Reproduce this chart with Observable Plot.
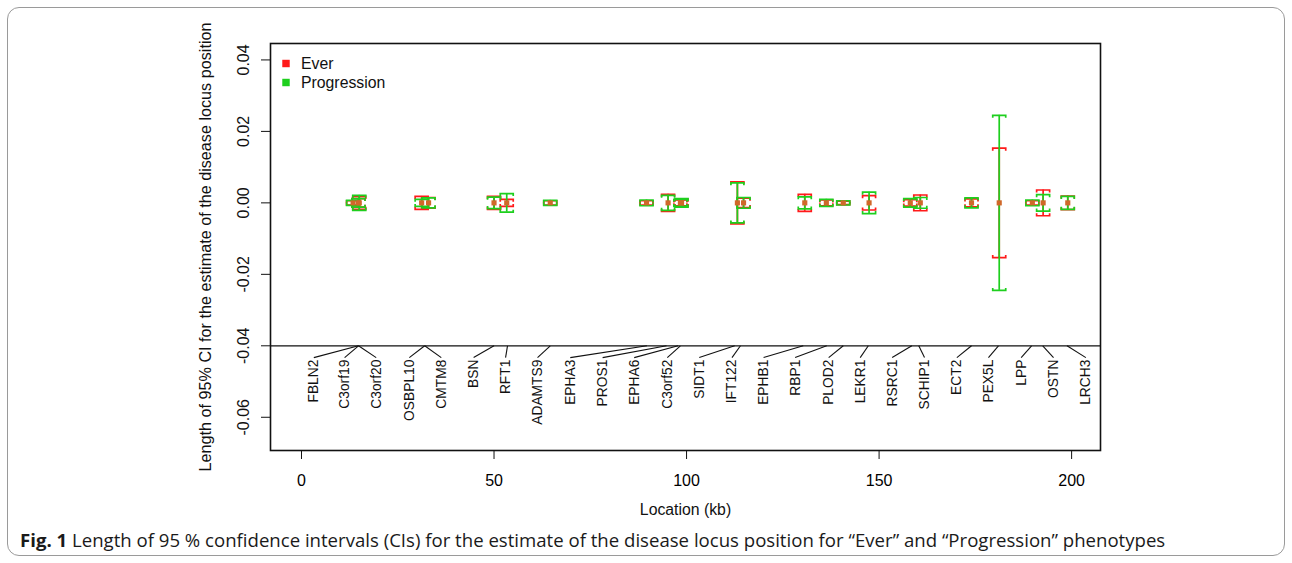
<!DOCTYPE html>
<html><head><meta charset="utf-8">
<script src="https://cdn.jsdelivr.net/npm/d3@7"></script>
<script src="https://cdn.jsdelivr.net/npm/@observablehq/plot@0.6"></script>
<style>
html,body{margin:0;padding:0;background:#fff;}
body{width:1292px;height:563px;position:relative;overflow:hidden;font-family:"Liberation Sans",Arial,sans-serif;}
#panel{position:absolute;left:7px;top:7px;width:1278px;height:549px;border:1px solid #9a9a9a;border-radius:12px;box-sizing:border-box;}
#chart{position:absolute;left:0;top:0;}
#caption{position:absolute;left:20px;top:527px;font-family:"Open Sans",sans-serif;font-size:18.6px;color:#1a1a1a;white-space:nowrap;}
</style></head><body>
<div id="panel"></div>
<div id="chart"></div>
<div id="caption"><b>Fig. 1</b> Length of 95 % confidence intervals (CIs) for the estimate of the disease locus position for “Ever” and “Progression” phenotypes</div>
<script>
// ---- data ----
const genes = ["FBLN2","C3orf19","C3orf20","OSBPL10","CMTM8","BSN","RFT1","ADAMTS9","EPHA3","PROS1","EPHA6","C3orf52","SIDT1","IFT122","EPHB1","RBP1","PLOD2","LEKR1","RSRC1","SCHIP1","ECT2","PEX5L","LPP","OSTN","LRCH3"];
// gene location on the map line (kb)
const geneLocation = [14.8,14.8,14.8,32.0,32.0,50.0,53.5,64.6,89.7,94.8,97.8,98.4,112.5,114.0,130.3,136.4,140.7,147.2,158.5,160.3,174.0,181.0,189.6,192.5,198.8];
// where each gene label sits (kb)
const labelLocation = [3.2,11.2,19.4,28.0,36.3,44.7,53.0,61.3,69.8,78.2,86.4,95.0,103.3,111.8,120.0,128.2,136.9,145.1,153.4,161.8,170.2,178.4,186.9,195.3,203.7];
// marker location of each interval (kb)
const markerLocation = [13.4,14.8,15.0,31.2,33.0,50.0,53.3,64.6,89.6,95.2,98.4,98.7,113.2,114.8,130.7,136.3,140.7,147.4,158.1,160.7,174.0,181.2,189.8,192.6,199.0];
// half length of the 95% CI
const everHalf = [0.0006,0.0012,0.0018,0.0018,0.0015,0.0018,0.0010,0.0006,0.0006,0.0024,0.0008,0.0010,0.0059,0.0013,0.0024,0.0008,0.0005,0.0020,0.0009,0.0022,0.0011,0.0153,0.0006,0.0036,0.0019];
const progHalf = [0.0007,0.0012,0.0021,0.0010,0.0014,0.0016,0.0026,0.0007,0.0008,0.0021,0.0010,0.0012,0.0056,0.0015,0.0017,0.0010,0.0006,0.0030,0.0012,0.0015,0.0014,0.0245,0.0008,0.0023,0.0018];
const seriesNames = ["Ever","Progression"];
const seriesColors = ["#ff1a1a","#1ecf1e"];
const xTicks = [0,50,100,150,200];
const yTicks = [-0.06,-0.04,-0.02,0,0.02,0.04];
const yTickLabels = ["-0.06","-0.04","-0.02","0.00","0.02","0.04"];
const mapLineY = -0.04;
const labelY = -0.0433;

// ---- build ----
const rows = genes.map((g,i)=>({gene:g, gx:geneLocation[i], lx:labelLocation[i], loc:markerLocation[i], ever:everHalf[i], prog:progHalf[i]}));
const capTop = {draw(ctx,size){const r=Math.sqrt(size/Math.PI);ctx.moveTo(-r,2.5);ctx.lineTo(-r,0);ctx.lineTo(r,0);ctx.lineTo(r,2.5);}};
const capBot = {draw(ctx,size){const r=Math.sqrt(size/Math.PI);ctx.moveTo(-r,-2.5);ctx.lineTo(-r,0);ctx.lineTo(r,0);ctx.lineTo(r,-2.5);}};

function bars(key,color){
  return [
    Plot.ruleX(rows,{x:"loc",y1:d=>-d[key],y2:d=>d[key],stroke:color,strokeWidth:1.7}),
    Plot.dot(rows,{x:"loc",y:d=>d[key],symbol:capTop,r:6.5,stroke:color,fill:"none",strokeWidth:1.7}),
    Plot.dot(rows,{x:"loc",y:d=>-d[key],symbol:capBot,r:6.5,stroke:color,fill:"none",strokeWidth:1.7})
  ];
}

const chart = Plot.plot({
  width:1292, height:525,
  marginLeft:270, marginRight:192, marginTop:43, marginBottom:75,
  style:{fontFamily:"'Liberation Sans',Arial,sans-serif",fontSize:"16px",color:"#000",background:"transparent"},
  x:{domain:[-8.05,207.5]},
  y:{domain:[-0.0693,0.0446]},
  marks:[
    Plot.ruleY([mapLineY],{stroke:"#111",strokeWidth:1.2}),
    Plot.link(rows,{x1:"gx",y1:()=>mapLineY,x2:"lx",y2:()=>labelY,stroke:"#111",strokeWidth:1.1}),
    Plot.text(rows,{x:"lx",y:()=>labelY,text:"gene",rotate:-90,textAnchor:"end",lineAnchor:"middle",dy:2,fontSize:13.8,fill:"#111"}),
    ...bars("ever",seriesColors[0]),
    ...bars("prog",seriesColors[1]),
    Plot.dot(rows,{x:"loc",y:()=>0,symbol:"square",r:2.9,fill:"#d0682a"}),
    Plot.frame({stroke:"#111",strokeWidth:1.6}),
    Plot.axisX({ticks:xTicks,tickSize:9,tickPadding:15,fontSize:16,label:null,stroke:"#111"}),
    Plot.axisY({ticks:yTicks,tickSize:9,tickFormat:()=>"",label:null,stroke:"#111"}),
    Plot.text(yTicks,{y:d=>d,text:(d,i)=>yTickLabels[i],frameAnchor:"left",textAnchor:"middle",lineAnchor:"middle",dx:-27,rotate:-90,fontSize:16,fill:"#111"}),
    Plot.text(["Location (kb)"],{frameAnchor:"bottom",textAnchor:"middle",lineAnchor:"middle",dy:59,fontSize:15.8,fill:"#111"}),
    Plot.text(["Length of 95% CI for the estimate of the disease locus position"],{frameAnchor:"left",textAnchor:"middle",lineAnchor:"middle",dx:-65,rotate:-90,fontSize:16.2,fill:"#111"}),
    Plot.dot([seriesNames[0]],{frameAnchor:"top-left",dx:15.5,dy:20,symbol:"square",r:4.2,fill:seriesColors[0]}),
    Plot.dot([seriesNames[1]],{frameAnchor:"top-left",dx:15.5,dy:39,symbol:"square",r:4.2,fill:seriesColors[1]}),
    Plot.text([seriesNames[0]],{frameAnchor:"top-left",dx:30.5,dy:20,text:d=>d,textAnchor:"start",lineAnchor:"middle",fontSize:15.8,fill:"#111"}),
    Plot.text([seriesNames[1]],{frameAnchor:"top-left",dx:30.5,dy:39,text:d=>d,textAnchor:"start",lineAnchor:"middle",fontSize:15.8,fill:"#111"})
  ]
});
document.getElementById("chart").appendChild(chart);
</script>
</body></html>
